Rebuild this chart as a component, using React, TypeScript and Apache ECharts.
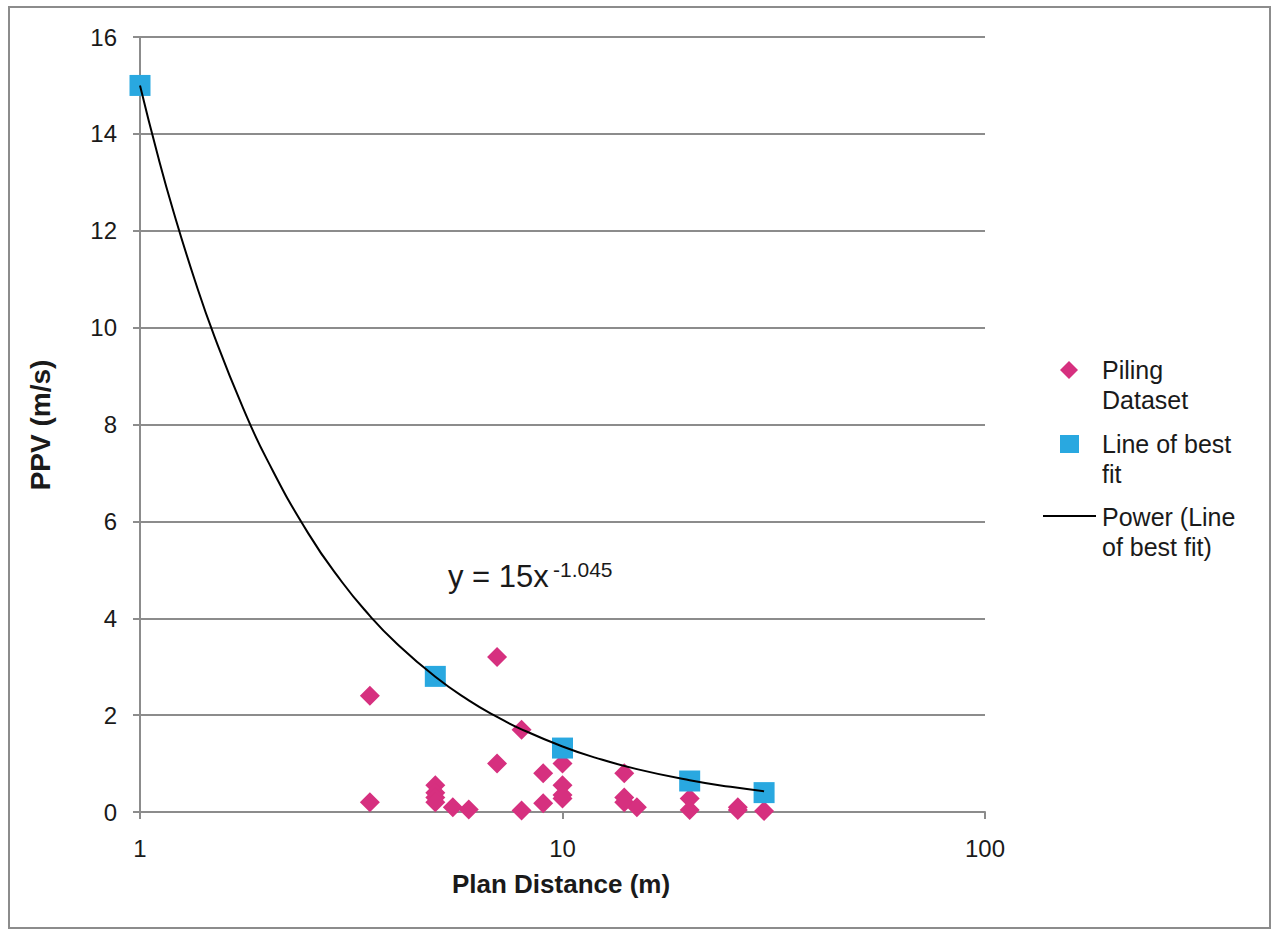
import React, { useEffect, useRef } from "react";
import * as echarts from "echarts";

// Piling dataset (plan distance m, PPV m/s)
const pilingX = [3.5, 3.5, 5, 5, 5, 5, 5.5, 6, 7, 7, 8, 8, 9, 9, 10, 10, 10, 10, 14, 14, 14, 15, 20, 20, 26, 26, 30];
const pilingY = [2.4, 0.2, 0.55, 0.4, 0.3, 0.2, 0.1, 0.05, 3.2, 1.0, 1.7, 0.03, 0.8, 0.18, 1.0, 0.55, 0.35, 0.28, 0.8, 0.3, 0.2, 0.1, 0.28, 0.04, 0.1, 0.04, 0.02];

// Line of best fit points
const fitPtX = [1, 5, 10, 20, 30];
const fitPtY = [15, 2.8, 1.32, 0.64, 0.4];

// Power trendline shown on the chart: y = 15x^-1.045
const FIT_A = 15;
const FIT_B = -1.045;
const trendX = [1, 1.1, 1.2, 1.35, 1.5, 1.75, 2, 2.5, 3, 3.5, 4, 5, 6, 7, 8, 10, 12, 15, 20, 25, 30];

const xTicks = [1, 10, 100];
const yMin = 0;
const yMax = 16;
const yStep = 2;

const FONT = "'Liberation Sans', Arial, sans-serif";
const GRAY = "#8c8c8c";
const TXT = "#1a1a1a";

export default function App() {
  const ref = useRef<HTMLDivElement>(null);
  useEffect(() => {
    if (!ref.current) return;
    const chart = echarts.init(ref.current, undefined, { renderer: "svg" });
    const piling = pilingX.map((x, i) => [x, pilingY[i]]);
    const fitPts = fitPtX.map((x, i) => [x, fitPtY[i]]);
    const trend = trendX.map((x) => [x, FIT_A * Math.pow(x, FIT_B)]);
    const legendText = (x: number, y: number, text: string) => ({
      type: "text",
      x,
      y,
      style: {
        text,
        fontSize: 25,
        lineHeight: 30,
        fontFamily: FONT,
        fill: TXT,
        align: "left",
        verticalAlign: "top",
      },
    });
    chart.setOption({
      animation: false,
      backgroundColor: "#ffffff",
      grid: { left: 140, right: 289, top: 37, bottom: 120 },
      xAxis: {
        type: "log",
        logBase: 10,
        min: xTicks[0],
        max: xTicks[xTicks.length - 1],
        axisLine: { show: true, lineStyle: { color: GRAY, width: 2 } },
        axisTick: { show: true, length: 7, lineStyle: { color: GRAY, width: 2 } },
        minorTick: { show: false },
        splitLine: { show: false },
        axisLabel: { color: TXT, fontSize: 24, fontFamily: FONT, margin: 24 },
      },
      yAxis: {
        type: "value",
        min: yMin,
        max: yMax,
        interval: yStep,
        axisLine: { show: true, lineStyle: { color: GRAY, width: 2 } },
        axisTick: { show: true, length: 7, lineStyle: { color: GRAY, width: 2 } },
        splitLine: { show: true, lineStyle: { color: GRAY, width: 2 } },
        axisLabel: { color: TXT, fontSize: 24, fontFamily: FONT, margin: 23 },
      },
      series: [
        {
          name: "Piling Dataset",
          type: "scatter",
          data: piling,
          symbol: "diamond",
          symbolSize: 20,
          itemStyle: { color: "#d6307f", opacity: 1 },
          z: 2,
        },
        {
          name: "Line of best fit",
          type: "scatter",
          data: fitPts,
          symbol: "rect",
          symbolSize: 21,
          itemStyle: { color: "#29a8e0", opacity: 1 },
          z: 3,
        },
        {
          name: "Power (Line of best fit)",
          type: "line",
          data: trend,
          smooth: true,
          showSymbol: false,
          lineStyle: { color: "#000000", width: 2 },
          z: 4,
        },
      ],
      graphic: [
        {
          type: "rect",
          shape: { x: 9, y: 7, width: 1261, height: 921 },
          style: { fill: "none", stroke: GRAY, lineWidth: 2 },
        },
        {
          type: "text",
          x: 40,
          y: 425,
          rotation: Math.PI / 2,
          style: {
            text: "PPV (m/s)",
            fontSize: 28,
            fontWeight: "bold",
            fontFamily: FONT,
            fill: TXT,
            align: "center",
            verticalAlign: "middle",
          },
        },
        {
          type: "text",
          x: 561,
          y: 884,
          style: {
            text: "Plan Distance (m)",
            fontSize: 26,
            fontWeight: "bold",
            fontFamily: FONT,
            fill: TXT,
            align: "center",
            verticalAlign: "middle",
          },
        },
        {
          type: "text",
          x: 448,
          y: 576,
          style: {
            text: "y = 15x",
            fontSize: 31,
            fontFamily: FONT,
            fill: TXT,
            align: "left",
            verticalAlign: "middle",
          },
        },
        {
          type: "text",
          x: 553,
          y: 569,
          style: {
            text: "-1.045",
            fontSize: 21,
            fontFamily: FONT,
            fill: TXT,
            align: "left",
            verticalAlign: "middle",
          },
        },
        // legend
        {
          type: "polygon",
          shape: { points: [[1069, 361], [1078, 370], [1069, 379], [1060, 370]] },
          style: { fill: "#d6307f" },
        },
        legendText(1102, 355, "Piling\nDataset"),
        {
          type: "rect",
          shape: { x: 1060, y: 435, width: 19, height: 18 },
          style: { fill: "#29a8e0" },
        },
        legendText(1102, 429, "Line of best\nfit"),
        {
          type: "line",
          shape: { x1: 1043, y1: 516, x2: 1096, y2: 516 },
          style: { stroke: "#000000", lineWidth: 2 },
        },
        legendText(1102, 502, "Power (Line\nof best fit)"),
      ],
    });
    return () => chart.dispose();
  }, []);
  return (
    <div
      ref={ref}
      style={{ position: "fixed", left: 0, top: 0, width: 1274, height: 932 }}
    />
  );
}
